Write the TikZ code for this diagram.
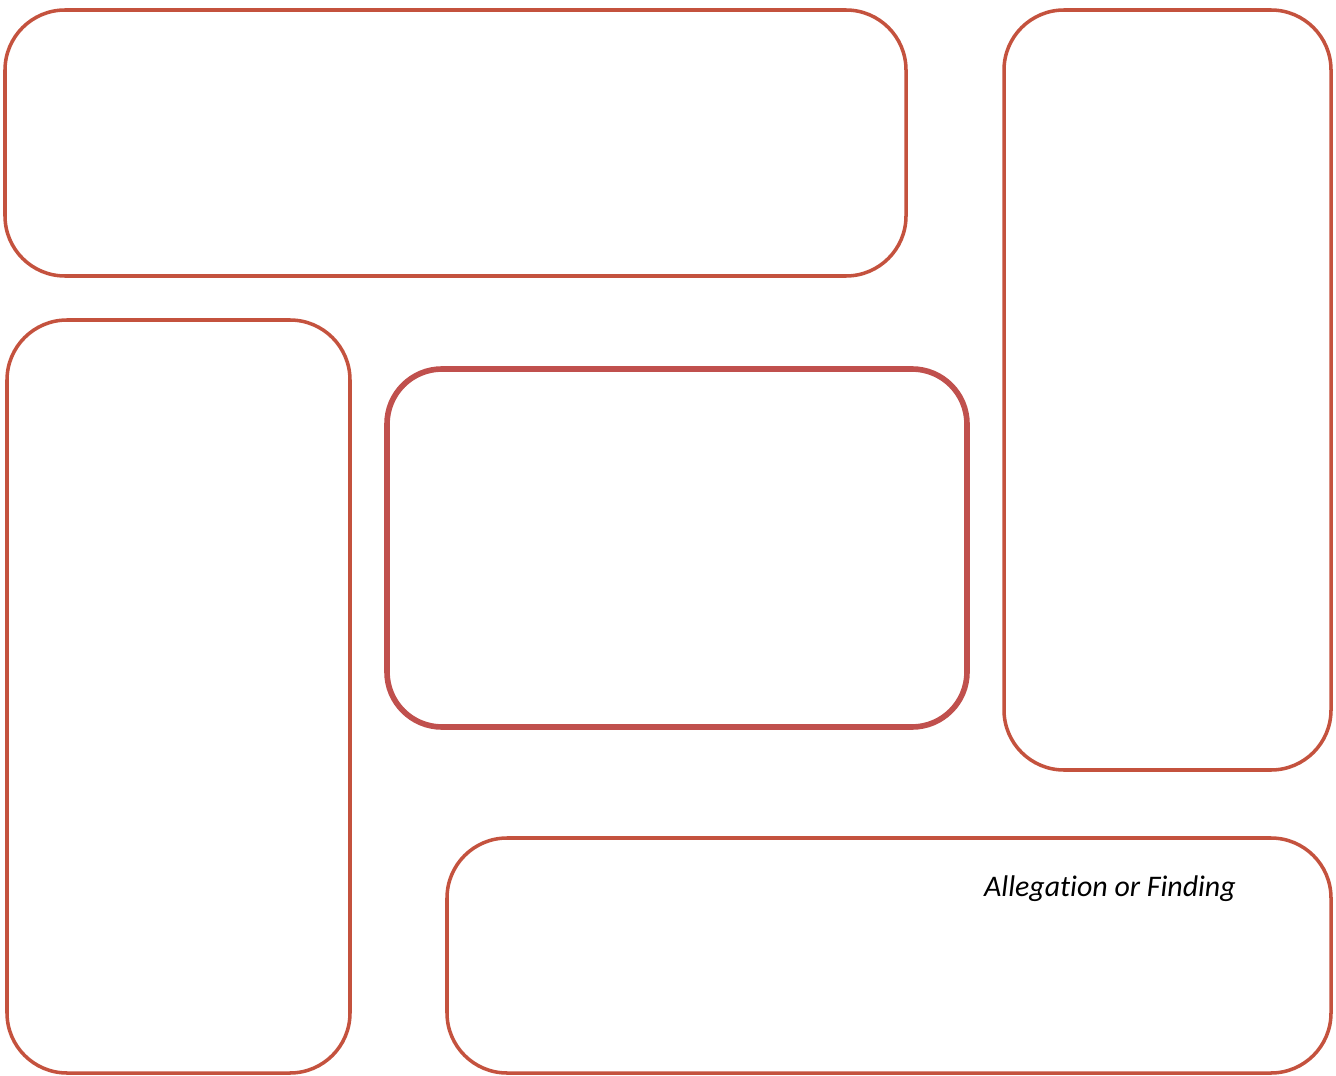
\documentclass[tikz,border=0pt]{standalone}
\usepackage{fontspec}
\setmainfont{Carlito}
\usepackage{xcolor}
\definecolor{frameRed}{RGB}{196,82,62}
\definecolor{centreRed}{RGB}{192,80,77}

\begin{document}
\begin{tikzpicture}[x=0.01cm, y=-0.01cm, font=\itshape]

    % Styles for the panels
    \tikzset{
        panel/.style={draw=frameRed, line width=1pt, rounded corners=0.6cm},
        centrepanel/.style={draw=centreRed, line width=1.6pt, rounded corners=0.55cm}
    }

    % Fix the page size to the reference
    \useasboundingbox (0,0) rectangle (1336,1076);

    % Outer panels
    \draw[panel] (5,10) rectangle (906,276);      % top wide panel
    \draw[panel] (1004,10) rectangle (1331,770);  % right tall panel
    \draw[panel] (7,320) rectangle (350,1073);    % left tall panel
    \draw[panel] (447,838) rectangle (1331,1073); % bottom wide panel

    % Central panel (thicker outline)
    \draw[centrepanel] (387,369) rectangle (967,727);

    % Label in the bottom panel
    \node[font=\fontsize{8.5}{10}\selectfont\itshape\addfontfeatures{Ligatures=NoCommon}] (finding) at (1110,889) {Allegation or Finding};

\end{tikzpicture}
\end{document}
